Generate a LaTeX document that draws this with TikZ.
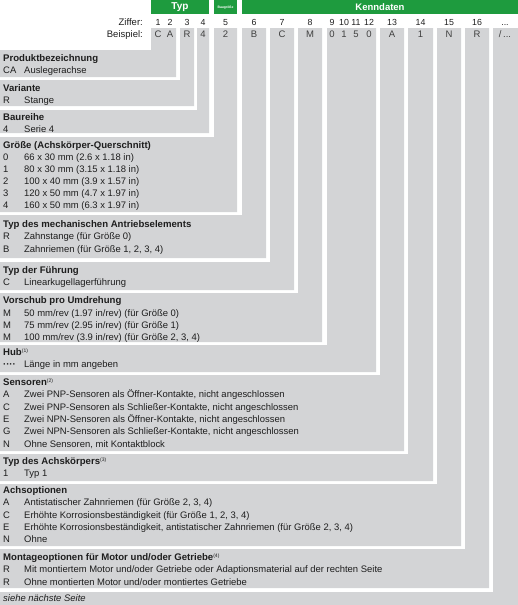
\documentclass[tikz,border=0pt]{standalone}
\usepackage{fontspec}
\setmainfont{Liberation Sans}
\definecolor{grayfill}{RGB}{211,212,214}
\definecolor{hdrgreen}{RGB}{30,155,62}
\definecolor{txt}{RGB}{30,30,30}
\begin{document}
\begin{tikzpicture}[x=1pt,y=-1pt,
  lshape/.style={fill=grayfill,draw=none},
  hbar/.style={fill=hdrgreen,draw=none},
  hlabel/.style={text=white,font=\bfseries\fontsize{10}{11}\selectfont,inner sep=0},
  ttl/.style={anchor=base west,inner sep=0,text=txt,font=\bfseries\fontsize{9.6}{11}\selectfont},
  cd/.style={anchor=base west,inner sep=0,text=txt,font=\fontsize{9.45}{11}\selectfont},
  dig/.style={inner sep=0,text=txt,font=\fontsize{8.8}{10}\selectfont,anchor=base},
  ex/.style={inner sep=0,text=black!75,font=\fontsize{9.5}{10}\selectfont,anchor=base},
  lbl/.style={inner sep=0,text=txt,font=\fontsize{9.5}{10}\selectfont,anchor=base east}]
\useasboundingbox (0,0) rectangle (518,605);
\newcommand\Lshape[4]{\fill[grayfill] (0,#3) -- (#1,#3) -- (#1,28) -- (#2,28) -- (#2,#4) -- (0,#4) -- cycle;}
\newcommand\supnote[1]{\raisebox{3.2pt}{\mdseries\fontsize{5}{5}\selectfont(#1)}}
% header bars
\fill[hbar] (151,0) rectangle (209,14);
\fill[hbar] (214,0) rectangle (237,14);
\fill[hbar] (242,0) rectangle (518,14);
\node[hlabel] (typ) at (180,7) {Typ};
\node[text=white,inner sep=0,font=\bfseries\fontsize{3.4}{4}\selectfont] (bg) at (225.5,7.3) {Baugröße};
\node[hlabel,font=\bfseries\fontsize{9.5}{11}\selectfont] (kd) at (380,7.3) {Kenndaten};
% L shapes
\Lshape{151}{176}{50}{77}
\Lshape{180}{194}{80}{106}
\Lshape{197}{209}{110}{133}
\Lshape{214}{237}{137}{212}
\Lshape{242}{266}{215}{258}
\Lshape{270}{294}{262}{290}
\Lshape{298}{322}{293}{342}
\Lshape{327}{376}{345}{372}
\Lshape{380}{404}{375}{451}
\Lshape{408}{433}{454}{481}
\Lshape{437}{461}{484}{546}
\Lshape{465}{489}{549}{588}
\Lshape{493}{518}{592}{605}
% header rows
\node[lbl] (zif) at (143,25) {Ziffer:};
\node[lbl] (bsp) at (143,37) {Beispiel:};
\foreach \n/\x/\d/\e in {d1/158/1/C, d2/170/2/A, d3/187/3/R, d4/203/4/4, d5/225.5/5/2, d6/254/6/B, d7/282/7/C, d8/310/8/M, d9/332/9/0, d10/344/10/1, d11/356/11/5, d12/369/12/0, d13/392/13/A, d14/420.5/14/1, d15/449/15/N, d16/477/16/R}{
  \node[dig] (\n) at (\x,25) {\d};
  \node[ex] (e\n) at (\x,37) {\e};
}
\node[dig] (d17) at (505,25) {...};
\node[ex] (ed17) at (505,37) {/\,...};
% section 1
\node[ttl] (t1) at (3,61.5) {Produktbezeichnung};
\node[cd] (c1a) at (3,73.5) {CA}; \node[cd] (s1a) at (24,73.5) {Auslegerachse};
% section 2
\node[ttl] (t2) at (3,91.5) {Variante};
\node[cd] (c2a) at (3,103.5) {R}; \node[cd] (s2a) at (24,103.5) {Stange};
% section 3
\node[ttl] (t3) at (3,120.5) {Baureihe};
\node[cd] (c3a) at (3,132) {4}; \node[cd] (s3a) at (24,132) {Serie 4};
% section 4
\node[ttl] (t4) at (3,148.5) {Größe (Achskörper-Querschnitt)};
\foreach \i/\c/\s in {1/0/66 x 30 mm (2.6 x 1.18 in), 2/1/80 x 30 mm (3.15 x 1.18 in), 3/2/100 x 40 mm (3.9 x 1.57 in), 4/3/120 x 50 mm (4.7 x 1.97 in), 5/4/160 x 50 mm (6.3 x 1.97 in)}{
  \node[cd] (c4\i) at (3,148.5+12*\i) {\c};
  \node[cd] (s4\i) at (24,148.5+12*\i) {\s};
}
% section 5
\node[ttl] (t5) at (3,227) {Typ des mechanischen Antriebselements};
\node[cd] (c5a) at (3,239.5) {R}; \node[cd] (s5a) at (24,239.5) {Zahnstange (für Größe 0)};
\node[cd] (c5b) at (3,252) {B}; \node[cd] (s5b) at (24,252) {Zahnriemen (für Größe 1, 2, 3, 4)};
% section 6
\node[ttl] (t6) at (3,273) {Typ der Führung};
\node[cd] (c6a) at (3,285.5) {C}; \node[cd] (s6a) at (24,285.5) {Linearkugellagerführung};
% section 7
\node[ttl] (t7) at (3,303.5) {Vorschub pro Umdrehung};
\node[cd] (c7a) at (3,316) {M}; \node[cd] (s7a) at (24,316) {50 mm/rev (1.97 in/rev) (für Größe 0)};
\node[cd] (c7b) at (3,328.3) {M}; \node[cd] (s7b) at (24,328.3) {75 mm/rev (2.95 in/rev) (für Größe 1)};
\node[cd] (c7c) at (3,340.6) {M}; \node[cd] (s7c) at (24,340.6) {100 mm/rev (3.9 in/rev) (für Größe 2, 3, 4)};
% section 8
\node[ttl] (t8) at (3,355.5) {Hub\supnote{1}};
\node[cd] (c8a) at (3,367.5) {\bfseries····}; \node[cd] (s8a) at (24,367.5) {Länge in mm angeben};
% section 9
\node[ttl] (t9) at (3,385.5) {Sensoren\supnote{2}};
\node[cd] (c9a) at (3,397.8) {A}; \node[cd] (s9a) at (24,397.8) {Zwei PNP-Sensoren als Öffner-Kontakte, nicht angeschlossen};
\node[cd] (c9b) at (3,410.1) {C}; \node[cd] (s9b) at (24,410.1) {Zwei PNP-Sensoren als Schließer-Kontakte, nicht angeschlossen};
\node[cd] (c9c) at (3,422.4) {E}; \node[cd] (s9c) at (24,422.4) {Zwei NPN-Sensoren als Öffner-Kontakte, nicht angeschlossen};
\node[cd] (c9d) at (3,434.7) {G}; \node[cd] (s9d) at (24,434.7) {Zwei NPN-Sensoren als Schließer-Kontakte, nicht angeschlossen};
\node[cd] (c9e) at (3,447) {N}; \node[cd] (s9e) at (24,447) {Ohne Sensoren, mit Kontaktblock};
% section 10
\node[ttl] (t10) at (3,464.5) {Typ des Achskörpers\supnote{3}};
\node[cd] (c10a) at (3,476.5) {1}; \node[cd] (s10a) at (24,476.5) {Typ 1};
% section 11
\node[ttl] (t11) at (3,493.5) {Achsoptionen};
\node[cd] (c11a) at (3,505.8) {A}; \node[cd] (s11a) at (24,505.8) {Antistatischer Zahnriemen (für Größe 2, 3, 4)};
\node[cd] (c11b) at (3,518.1) {C}; \node[cd] (s11b) at (24,518.1) {Erhöhte Korrosionsbeständigkeit (für Größe 1, 2, 3, 4)};
\node[cd] (c11c) at (3,530.4) {E}; \node[cd] (s11c) at (24,530.4) {Erhöhte Korrosionsbeständigkeit, antistatischer Zahnriemen (für Größe 2, 3, 4)};
\node[cd] (c11d) at (3,542.7) {N}; \node[cd] (s11d) at (24,542.7) {Ohne};
% section 12
\node[ttl] (t12) at (3,560.5) {Montageoptionen für Motor und/oder Getriebe\supnote{4}};
\node[cd] (c12a) at (3,572.8) {R}; \node[cd] (s12a) at (24,572.8) {Mit montiertem Motor und/oder Getriebe oder Adaptionsmaterial auf der rechten Seite};
\node[cd] (c12b) at (3,585.1) {R}; \node[cd] (s12b) at (24,585.1) {Ohne montierten Motor und/oder montiertes Getriebe};
% section 13
\node[cd,font=\itshape\fontsize{9.45}{11}\selectfont] (t13) at (3,601.5) {siehe nächste Seite};
\end{tikzpicture}
\end{document}
